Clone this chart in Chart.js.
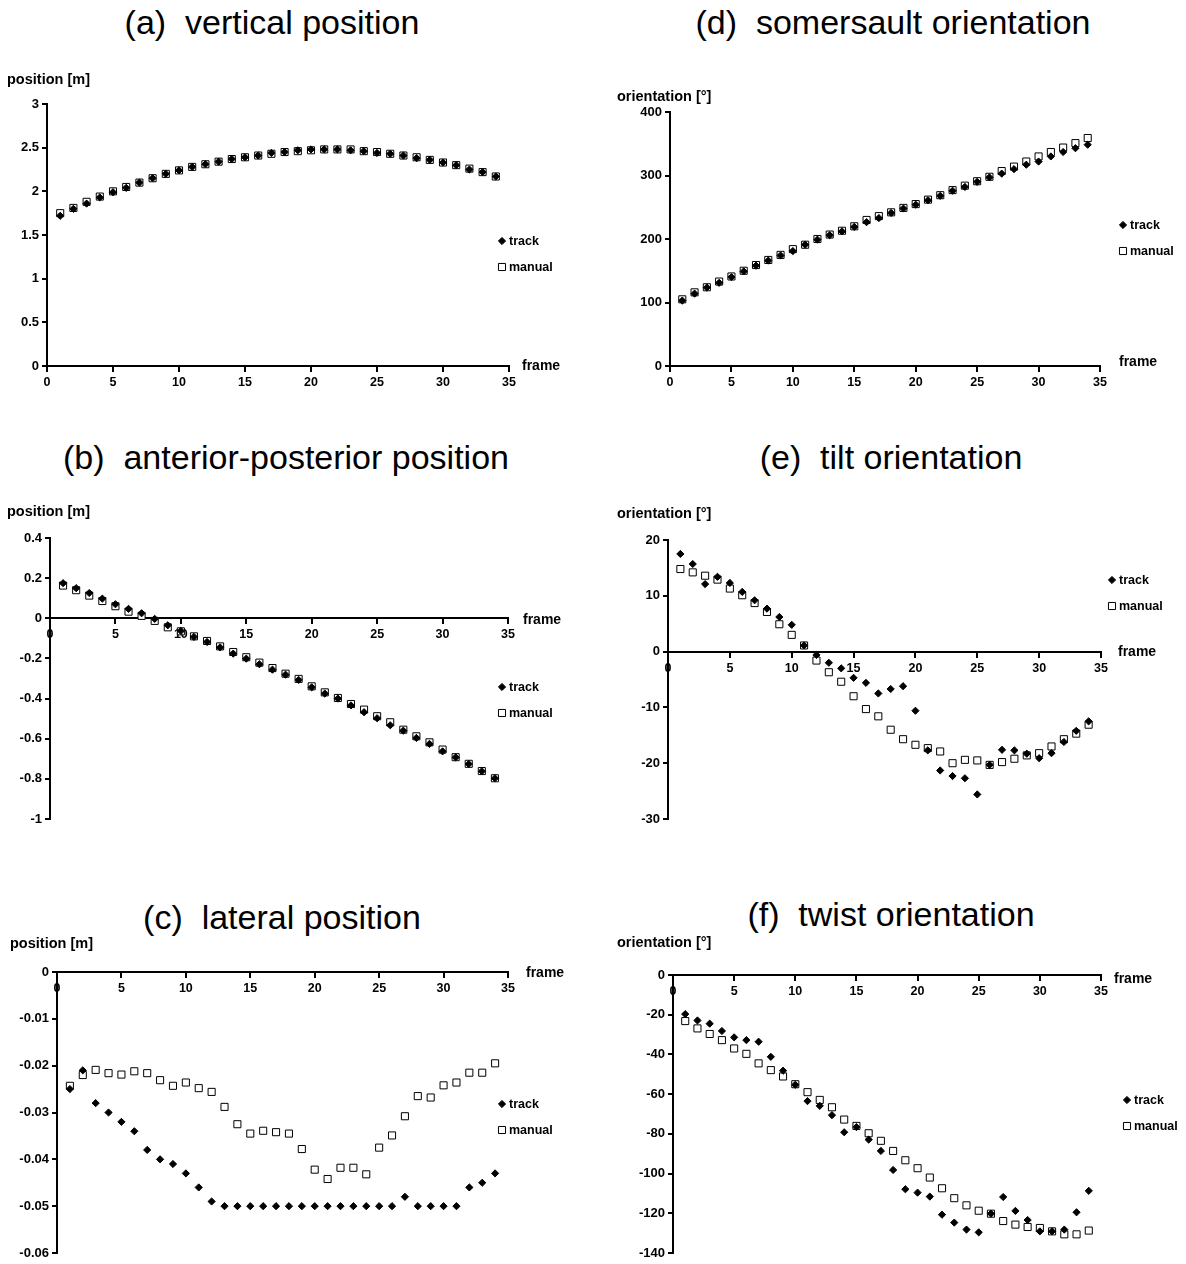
<!DOCTYPE html>
<html>
<head>
<meta charset="utf-8">
<script src="https://cdn.jsdelivr.net/npm/chart.js@4.4.0/dist/chart.umd.min.js"></script>
<style>
  body { margin: 0; background: #fff; width: 1186px; height: 1264px; position: relative; overflow: hidden;
         font-family: 'Liberation Sans', Arial, sans-serif; }
  .title { position: absolute; width: 600px; text-align: center; font-size: 34px; line-height: 34px;
           white-space: pre; color: #000; }
  canvas { position: absolute; }
</style>
</head>
<body>
<div class="title" style="left:-28px;top:5px">(a)  vertical position</div>
<div class="title" style="left:-14px;top:440px">(b)  anterior-posterior position</div>
<div class="title" style="left:-18px;top:900px">(c)  lateral position</div>
<div class="title" style="left:593px;top:5px">(d)  somersault orientation</div>
<div class="title" style="left:591px;top:440px">(e)  tilt orientation</div>
<div class="title" style="left:591px;top:897px">(f)  twist orientation</div>

<canvas id="ca"></canvas>
<canvas id="cb"></canvas>
<canvas id="cc"></canvas>
<canvas id="cd"></canvas>
<canvas id="ce"></canvas>
<canvas id="cf"></canvas>

<script>
"use strict";

// frame numbers shared by every panel
const frames = [1, 2, 3, 4, 5, 6, 7, 8, 9, 10, 11, 12, 13, 14, 15, 16, 17,
                18, 19, 20, 21, 22, 23, 24, 25, 26, 27, 28, 29, 30, 31, 32, 33, 34];
const frameTicks = [0, 35, 5];   // min, max, step

// (a) vertical position [m]
const vertTrack  = [1.72, 1.80, 1.86, 1.93, 1.99, 2.04, 2.10, 2.15, 2.20, 2.24, 2.28, 2.31, 2.34, 2.37, 2.39, 2.41, 2.44,
                    2.45, 2.47, 2.48, 2.48, 2.48, 2.47, 2.46, 2.44, 2.43, 2.41, 2.38, 2.36, 2.33, 2.30, 2.25, 2.22, 2.17];
const vertManual = [1.75, 1.81, 1.88, 1.94, 2.00, 2.05, 2.10, 2.15, 2.20, 2.24, 2.28, 2.31, 2.34, 2.37, 2.39, 2.41, 2.43,
                    2.45, 2.46, 2.47, 2.48, 2.48, 2.48, 2.46, 2.45, 2.43, 2.41, 2.39, 2.36, 2.33, 2.30, 2.26, 2.22, 2.17];
const vertTicks  = [0, 3, 0.5];

// (b) anterior-posterior position [m]
const apTrack  = [0.175, 0.15, 0.126, 0.098, 0.07, 0.047, 0.025, -0.003, -0.035, -0.063, -0.093, -0.118, -0.145, -0.176,
                  -0.201, -0.229, -0.256, -0.281, -0.307, -0.344, -0.375, -0.40, -0.434, -0.468, -0.498, -0.533, -0.56,
                  -0.596, -0.626, -0.663, -0.693, -0.726, -0.762, -0.797];
const apManual = [0.163, 0.14, 0.113, 0.086, 0.06, 0.033, 0.012, -0.013, -0.045, -0.065, -0.09, -0.113, -0.14, -0.168,
                  -0.194, -0.221, -0.248, -0.276, -0.302, -0.339, -0.369, -0.397, -0.427, -0.455, -0.488, -0.518, -0.555,
                  -0.588, -0.618, -0.654, -0.692, -0.725, -0.761, -0.797];
const apTicks  = [-1, 0.4, 0.2];

// (c) lateral position [m]
const latTrack  = [-0.025, -0.021, -0.028, -0.030, -0.032, -0.034, -0.038, -0.040, -0.041, -0.043, -0.046, -0.049,
                   -0.050, -0.050, -0.050, -0.050, -0.050, -0.050, -0.050, -0.050, -0.050, -0.050, -0.050, -0.050,
                   -0.050, -0.050, -0.048, -0.050, -0.050, -0.050, -0.050, -0.046, -0.045, -0.043];
const latManual = [-0.0243, -0.0220, -0.0209, -0.0216, -0.0219, -0.0212, -0.0216, -0.0231, -0.0243, -0.0236, -0.0248,
                   -0.0256, -0.0288, -0.0325, -0.0345, -0.0339, -0.0342, -0.0345, -0.0378, -0.0422, -0.0442, -0.0418,
                   -0.0418, -0.0432, -0.0375, -0.0349, -0.0308, -0.0265, -0.0268, -0.0242, -0.0236, -0.0215, -0.0215,
                   -0.0195];
const latTicks  = [-0.06, 0, 0.01];

// (d) somersault orientation [deg]
const somTrack  = [103, 114, 123.5, 131, 140, 149, 158, 166, 174, 181, 191, 199, 206, 212, 219, 226.5, 233,
                   241, 248, 254, 261, 268, 276, 282, 290, 297, 303, 310, 317, 322, 330, 337, 343, 348.5];
const somManual = [105, 116, 124, 133, 141, 150, 159, 167, 175, 184, 191, 200, 207, 213, 220, 230, 236,
                   242, 249, 255, 262, 269, 277, 284, 291, 298, 307, 314, 322, 330, 337, 344, 351, 359];
const somTicks  = [0, 400, 100];

// (e) tilt orientation [deg]
const tiltTrack  = [17.5, 15.7, 12.1, 13.4, 12.3, 10.7, 9.2, 7.7, 6.2, 4.8, 1.1, -0.6, -2.0, -3.0, -4.7, -5.6, -7.5,
                    -6.7, -6.2, -10.6, -17.7, -21.3, -22.3, -22.7, -25.6, -20.3, -17.6, -17.7, -18.3, -19.1, -18.2,
                    -16.2, -14.2, -12.5];
const tiltManual = [14.8, 14.2, 13.6, 12.9, 11.3, 10.1, 8.7, 7.1, 4.9, 3.0, 1.1, -1.6, -3.7, -5.4, -8.0, -10.3, -11.6,
                    -14.0, -15.7, -16.7, -17.3, -17.9, -20.0, -19.4, -19.5, -20.3, -19.8, -19.2, -18.6, -18.2, -17.0,
                    -15.7, -14.7, -13.1];
const tiltTicks  = [-30, 20, 10];

// (f) twist orientation [deg]
const twistTrack  = [-19.7, -22.9, -24.5, -28.2, -31.4, -32.8, -33.6, -41.2, -48.2, -55.3, -63.5, -65.9, -70.6, -79.2,
                     -76.6, -82.9, -88.6, -98.2, -107.9, -109.6, -111.6, -120.7, -124.7, -128.2, -129.6, -120.2,
                     -111.8, -118.8, -123.4, -129.1, -129.1, -128.2, -119.5, -108.7];
const twistManual = [-23.2, -26.9, -29.7, -32.8, -37.0, -39.7, -44.5, -47.9, -51.1, -55.0, -59.0, -62.9, -66.6, -72.8,
                     -76.0, -79.7, -83.5, -88.6, -93.3, -97.3, -102.0, -107.4, -112.4, -116.0, -118.7, -120.2,
                     -123.9, -125.7, -126.9, -127.4, -129.1, -130.6, -130.6, -128.7];
const twistTicks  = [-140, 0, 20];

const FONT = "'Liberation Sans', Arial, sans-serif";
const Y_AXIS_W = 44;

Chart.defaults.font.family = FONT;
Chart.defaults.color = '#000';

// page layout of each panel: canvas box, plot area, and where the extra labels go
const panels = [
  { id: 'ca', track: vertTrack, manual: vertManual, ticks: vertTicks, unit: 'position [m]',
    canvas: [0, 60, 593, 350], area: [47, 104, 509, 366], unitAt: [7, 80], frameAt: [522, 366], legendAt: [502, 241] },
  { id: 'cb', track: apTrack, manual: apManual, ticks: apTicks, unit: 'position [m]',
    canvas: [0, 490, 593, 345], area: [50, 538, 508, 819], unitAt: [7, 512], frameAt: [523, 620], legendAt: [502, 687] },
  { id: 'cc', track: latTrack, manual: latManual, ticks: latTicks, unit: 'position [m]',
    canvas: [0, 930, 593, 334], area: [57, 972, 508, 1253], unitAt: [10, 944], frameAt: [526, 973], legendAt: [502, 1104] },
  { id: 'cd', track: somTrack, manual: somManual, ticks: somTicks, unit: 'orientation [°]',
    canvas: [593, 60, 593, 350], area: [670, 112, 1100, 366], unitAt: [617, 97], frameAt: [1119, 362], legendAt: [1123, 225] },
  { id: 'ce', track: tiltTrack, manual: tiltManual, ticks: tiltTicks, unit: 'orientation [°]',
    canvas: [593, 490, 593, 345], area: [668, 540, 1101, 819], unitAt: [617, 514], frameAt: [1118, 652], legendAt: [1112, 580] },
  { id: 'cf', track: twistTrack, manual: twistManual, ticks: twistTicks, unit: 'orientation [°]',
    canvas: [593, 930, 593, 334], area: [673, 975, 1101, 1253], unitAt: [617, 943], frameAt: [1114, 979], legendAt: [1127, 1100] }
];

// draws the unit label, the "frame" label and the marker legend
const panelDecor = {
  id: 'panelDecor',
  afterDraw(chart, args, o) {
    const ctx = chart.ctx;
    ctx.save();
    ctx.fillStyle = '#000';
    ctx.textAlign = 'left';
    ctx.textBaseline = 'middle';
    ctx.font = 'bold 14.5px ' + FONT;
    ctx.fillText(o.unit, o.unitAt[0], o.unitAt[1]);
    ctx.font = 'bold 14px ' + FONT;
    ctx.fillText('frame', o.frameAt[0], o.frameAt[1]);

    ctx.font = 'bold 12.5px ' + FONT;
    chart.data.datasets.forEach((ds, i) => {
      const lx = o.legendAt[0];
      const ly = o.legendAt[1] + i * 26;
      ctx.fillStyle = ds.backgroundColor;
      ctx.strokeStyle = ds.borderColor;
      ctx.lineWidth = ds.borderWidth;
      Chart.helpers.drawPoint(ctx, {
        pointStyle: ds.pointStyle, radius: ds.pointRadius, borderWidth: ds.borderWidth, rotation: 0
      }, lx, ly);
      ctx.fillStyle = '#000';
      ctx.fillText(ds.label, lx + 7, ly + 1);
    });
    ctx.restore();
  }
};

const fmt = v => String(parseFloat(Number(v).toFixed(4)));

panels.forEach(p => {
  const canvas = document.getElementById(p.id);
  const [cx, cy, cw, ch] = p.canvas;
  const [l, t, r, b] = p.area;
  canvas.width = cw;
  canvas.height = ch;
  canvas.style.left = cx + 'px';
  canvas.style.top = cy + 'px';

  const axisStyle = {
    border: { display: true, color: '#000', width: 2 },
    grid: { display: true, drawOnChartArea: false, drawTicks: true, tickLength: 5, color: '#000', lineWidth: 2 }
  };

  new Chart(canvas, {
    type: 'scatter',
    data: {
      datasets: [
        {
          label: 'track',
          data: frames.map((f, i) => ({ x: f, y: p.track[i] })),
          pointStyle: 'rectRot', pointRadius: 3.6,
          backgroundColor: '#000', borderColor: '#000', borderWidth: 1
        },
        {
          label: 'manual',
          data: frames.map((f, i) => ({ x: f, y: p.manual[i] })),
          pointStyle: 'rect', pointRadius: 5,
          backgroundColor: '#fff', borderColor: '#000', borderWidth: 1
        }
      ]
    },
    options: {
      responsive: false,
      animation: false,
      devicePixelRatio: 1,
      events: [],
      layout: {
        padding: { left: l - cx - Y_AXIS_W, top: t - cy, right: cx + cw - r, bottom: cy + ch - b }
      },
      plugins: {
        legend: { display: false },
        tooltip: { enabled: false },
        panelDecor: {
          unit: p.unit,
          unitAt: [p.unitAt[0] - cx, p.unitAt[1] - cy],
          frameAt: [p.frameAt[0] - cx, p.frameAt[1] - cy],
          legendAt: [p.legendAt[0] - cx, p.legendAt[1] - cy]
        }
      },
      scales: {
        x: {
          type: 'linear',
          position: { y: 0 },
          min: frameTicks[0], max: frameTicks[1],
          ticks: { stepSize: frameTicks[2], padding: 4, font: { size: 12.5, weight: 'bold' }, color: '#000' },
          ...axisStyle
        },
        y: {
          type: 'linear',
          position: 'left',
          min: p.ticks[0], max: p.ticks[1],
          ticks: { stepSize: p.ticks[2], padding: 3, font: { size: 13, weight: 'bold' }, color: '#000', callback: fmt },
          afterFit: s => { s.width = Y_AXIS_W; },
          ...axisStyle
        }
      }
    },
    plugins: [panelDecor]
  });
});
</script>
</body>
</html>
